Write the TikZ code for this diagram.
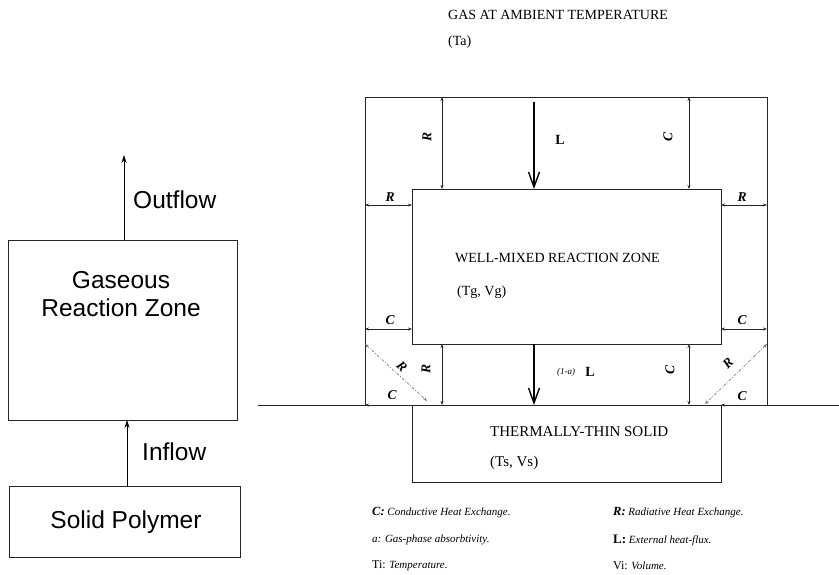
\documentclass[tikz,border=0pt]{standalone}
\usepackage{fontspec}
\setmainfont{Liberation Serif}
\newfontfamily\hv{Liberation Sans}
\usetikzlibrary{arrows.meta}
\newcommand\mylegb{\fontsize{12.5}{12}\selectfont\bfseries\itshape}
\begin{document}
\begin{tikzpicture}[x=1pt,y=-1pt,
  ln/.style={line width=0.6pt, draw=black!85},
  box/.style={ln, rectangle, inner sep=0pt, outer sep=0pt, anchor=north west},
  dbl/.style={ln, {Stealth[length=4pt,width=3pt]}-{Stealth[length=4pt,width=3pt]}},
  sgl/.style={ln, -{Stealth[length=4pt,width=3pt]}},
  diag/.style={dbl, draw=black!55, dash pattern=on 3pt off 1.5pt on 0.8pt off 1.5pt},
  bigarrow/.style={line width=1.4pt, -{Straight Barb[length=15pt,width=11pt,line width=1.4pt]}},
  flow/.style={line width=0.6pt, -{Stealth[length=8pt,width=5pt]}},
  lab/.style={font=\fontsize{13.5}{13}\selectfont\bfseries\itshape, inner sep=0pt},
  labL/.style={font=\fontsize{14}{13}\selectfont\bfseries, inner sep=0pt},
  txt/.style={font=\fontsize{14}{14}\selectfont, inner sep=0pt, anchor=west},
  txtb/.style={font=\fontsize{15}{15}\selectfont, inner sep=0pt, anchor=west},
  hvtxt/.style={font=\hv\fontsize{24.5}{28}\selectfont, inner sep=0pt, align=center},
  leg/.style={font=\fontsize{11}{12}\selectfont, inner sep=0pt, anchor=west}
]
\useasboundingbox (0,0) rectangle (839,575);

% ---------- left diagram ----------
\node[box, minimum width=229pt, minimum height=180pt] (gz) at (8,240) {};
\node[box, minimum width=231pt, minimum height=71pt] (sp) at (9,486) {};
\node[hvtxt] (gzt) at (121,294) {Gaseous\\Reaction Zone};
\node[hvtxt] (spt) at (126,522) {Solid Polymer};
\coordinate (out) at (124,155);
\coordinate (xin) at (127,0);
\draw[flow] (out |- gz.north) -- (out);
\draw[flow] (xin |- sp.north) -- (xin |- gz.south);
\node[hvtxt, anchor=west] (outl) at (133,200) {Outflow};
\node[hvtxt, anchor=west] (inl) at (142,452) {Inflow};

% ---------- right diagram ----------
\node[txt] (gas) at (448,15) {GAS AT AMBIENT TEMPERATURE};
\node[txt] (ta) at (448,42) {(Ta)};

\coordinate (FTL) at (365,97);
\coordinate (FTR) at (767,97);
\coordinate (FBL) at (365,405);
\coordinate (FBR) at (767,405);
\coordinate (g0) at (258,405);
\coordinate (g1) at (839,405);

\node[box, minimum width=309pt, minimum height=155pt] (wm) at (412,189) {};
\node[box, minimum width=309pt, minimum height=77pt] (ts) at (412,405) {};

\draw[ln] (FBL) -- (FTL) -- (FTR) -- (FBR);
\draw[ln] (g0) -- (g1);

\node[txt] (wmt) at (455,258) {WELL-MIXED REACTION ZONE};
\node[txt] (wmv) at (457,292) {(Tg, Vg)};
\node[txtb] (tst) at (490,432) {THERMALLY-THIN SOLID};
\node[txtb] (tsv) at (490,463) {(Ts, Vs)};

% x / y guides
\coordinate (xR) at (442,0);
\coordinate (xC) at (689,0);
\coordinate (yR) at (0,205);
\coordinate (yC) at (0,329);
\coordinate (xL) at (534,102);
\coordinate (dL) at (427,401);
\coordinate (dR) at (705,404);

% vertical exchanges
\draw[dbl] (xR |- FTL) -- (xR |- wm.north);
\draw[dbl] (xC |- FTR) -- (xC |- wm.north);
\draw[dbl] (xR |- wm.south) -- (xR |- ts.north);
\draw[dbl] (xC |- wm.south) -- (xC |- ts.north);
% horizontal exchanges
\draw[dbl] (FTL |- yR) -- (wm.west |- yR);
\draw[dbl] (wm.east |- yR) -- (FTR |- yR);
\draw[dbl] (FTL |- yC) -- (wm.west |- yC);
\draw[dbl] (wm.east |- yC) -- (FTR |- yC);
% diagonals
\draw[diag] (FTL |- wm.south) -- (dL);
\draw[diag] (FTR |- wm.south) -- (dR);
% bottom conduction
\draw[sgl] (ts.north west) -- (FBL);
\draw[sgl] (FBR) -- (ts.north east);
% external flux
\draw[bigarrow] (xL) -- (xL |- wm.north);
\draw[bigarrow] (xL |- wm.south) -- (xL |- ts.north);

% labels
\node[lab, rotate=90] (lR1) at (427,137) {R};
\node[lab, rotate=90] (lC1) at (668,137) {C};
\node[labL] (lL1) at (560,140) {L};
\node[lab] (lR2) at (390,197) {R};
\node[lab] (lR3) at (742,197) {R};
\node[lab] (lC2) at (390,320) {C};
\node[lab] (lC3) at (742,320) {C};
\node[lab, rotate=90] (lR4) at (426,369) {R};
\node[lab, rotate=-45] (lR5) at (402,367) {R};
\node[lab, rotate=45] (lR6) at (728,363) {R};
\node[lab, rotate=90] (lC4) at (670,370) {C};
\node[lab] (lC5) at (392,395) {C};
\node[lab] (lC6) at (742,396) {C};
\node[inner sep=0pt, anchor=west, font=\fontsize{9}{9}\selectfont\itshape] (la) at (557,372) {(1-a)};
\node[labL] (lL2) at (590,372) {L};

% legend
\node[leg] (k1) at (372,513) {{\mylegb C:} \textit{Conductive Heat Exchange.}};
\node[leg] (k2) at (372,540) {\textit{a: Gas-phase absorbtivity.}};
\node[leg] (k3) at (372,566) {{\fontsize{12}{12}\selectfont Ti:} \textit{Temperature.}};
\node[leg] (k4) at (613,513) {{\mylegb R:} \textit{Radiative Heat Exchange.}};
\node[leg] (k5) at (613,540) {{\fontsize{13}{12}\selectfont\bfseries L:} \textit{External heat-flux.}};
\node[leg] (k6) at (613,566) {{\fontsize{12}{12}\selectfont Vi:} \textit{Volume.}};
\end{tikzpicture}
\end{document}
